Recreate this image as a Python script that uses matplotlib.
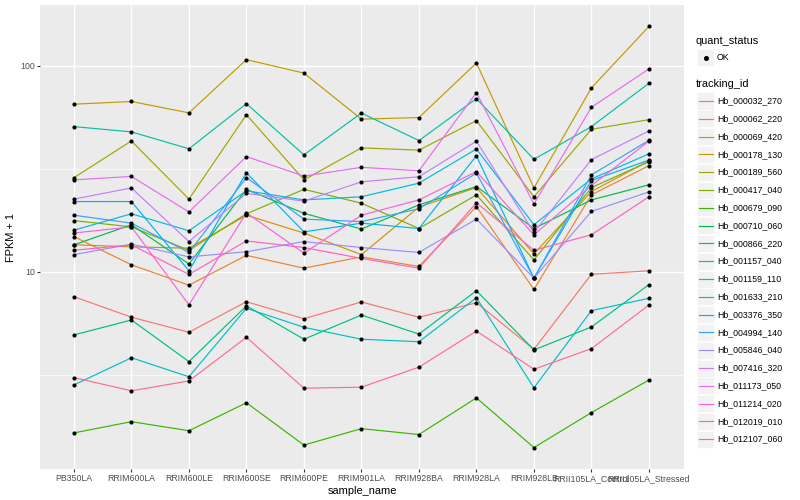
import numpy as np
import matplotlib
matplotlib.use("Agg")
import matplotlib.pyplot as plt
from matplotlib.patches import Rectangle
from matplotlib.lines import Line2D
from matplotlib.ticker import FixedLocator, NullFormatter

plt.rcParams['font.family'] = ['Liberation Sans', 'DejaVu Sans']

samples = ["PB350LA", "RRIM600LA", "RRIM600LE", "RRIM600SE", "RRIM600PE",
           "RRIM901LA", "RRIM928BA", "RRIM928LA", "RRIM928LB",
           "RRII105LA_Control", "RRII105LA_Stressed"]

tracking_ids = ["Hb_000032_270", "Hb_000062_220", "Hb_000069_420", "Hb_000178_130",
                "Hb_000189_560", "Hb_000417_040", "Hb_000679_090", "Hb_000710_060",
                "Hb_000866_220", "Hb_001157_040", "Hb_001159_110", "Hb_001633_210",
                "Hb_003376_350", "Hb_004994_140", "Hb_005846_040", "Hb_007416_320",
                "Hb_011173_050", "Hb_011214_020", "Hb_012019_010", "Hb_012107_060"]

# FPKM + 1 per sample
hb_000032_270 = [7.56, 6.01, 5.08, 7.15, 5.91, 7.13, 6.01, 7.07, 4.20, 9.71, 10.1]
hb_000062_220 = [14.8, 10.8, 8.6, 12.0, 10.4, 11.8, 10.6, 20.7, 8.2, 23.6, 32.7]
hb_000069_420 = [13.5, 13.2, 13.0, 18.8, 15.4, 12.1, 20.6, 25.6, 12.2, 24.5, 34.5]
hb_000178_130 = [65, 67, 59, 107, 92, 55, 56, 103, 25.5, 78, 155]
hb_000189_560 = [28.6, 43.1, 22.5, 57.8, 27.9, 39.9, 38.9, 54.1, 23.1, 49.1, 54.7]
hb_000417_040 = [17.7, 16.5, 12.7, 19.1, 25.1, 21.5, 16.2, 23.6, 11.4, 25.6, 34.2]
hb_000679_090 = [1.65, 1.87, 1.69, 2.31, 1.44, 1.73, 1.62, 2.44, 1.40, 2.07, 2.98]
hb_000710_060 = [13.5, 16.9, 10.9, 25.1, 19.2, 16.1, 21.1, 25.9, 16.2, 22.3, 26.4]
hb_000866_220 = [4.93, 5.83, 3.66, 6.82, 4.70, 6.16, 4.98, 8.09, 4.17, 5.39, 8.65]
hb_001157_040 = [50.6, 47.7, 39.5, 65.4, 36.9, 58.9, 43.3, 69.2, 35.1, 50.6, 82.1]
hb_001159_110 = [2.82, 3.82, 3.09, 6.64, 5.37, 4.70, 4.57, 7.48, 2.73, 6.47, 7.43]
hb_001633_210 = [15.9, 19.1, 15.8, 24.7, 22.3, 23.1, 26.9, 39.4, 16.9, 28.2, 37.3]
hb_003376_350 = [21.9, 21.9, 10.1, 30.2, 15.6, 17.2, 16.2, 36.5, 9.3, 27.7, 34.8]
hb_004994_140 = [18.8, 17.2, 12.4, 28.6, 18.0, 17.5, 20.2, 30.1, 9.3, 29.5, 43.4]
hb_005846_040 = [12.1, 13.6, 11.8, 12.5, 14.0, 13.1, 12.4, 18.0, 9.3, 19.6, 24.4]
hb_007416_320 = [22.5, 25.5, 14.0, 24.0, 22.0, 27.3, 28.9, 43.0, 15.5, 35.0, 48.2]
hb_011173_050 = [27.9, 29.0, 19.5, 36.2, 29.1, 32.1, 30.9, 74.0, 21.3, 62.8, 96.4]
hb_011214_020 = [15.4, 16.5, 6.9, 19.3, 12.3, 18.8, 22.3, 30.6, 15.1, 26.2, 43.0]
hb_012019_010 = [12.7, 13.5, 9.7, 14.1, 13.1, 11.6, 10.4, 21.6, 12.7, 15.1, 23.1]
hb_012107_060 = [3.06, 2.64, 2.95, 4.80, 2.72, 2.75, 3.44, 5.15, 3.36, 4.23, 6.89]

series = [hb_000032_270, hb_000062_220, hb_000069_420, hb_000178_130, hb_000189_560,
          hb_000417_040, hb_000679_090, hb_000710_060, hb_000866_220, hb_001157_040,
          hb_001159_110, hb_001633_210, hb_003376_350, hb_004994_140, hb_005846_040,
          hb_007416_320, hb_011173_050, hb_011214_020, hb_012019_010, hb_012107_060]

# ggplot default hue palette for 20 levels
colors = ["#F8766D", "#EA8331", "#D89000", "#C09B00", "#A3A500", "#7CAE00", "#39B600",
          "#00BB4E", "#00BF7D", "#00C1A3", "#00BFC4", "#00BAE0", "#00B0F6", "#35A2FF",
          "#9590FF", "#C77CFF", "#E76BF3", "#FA62DB", "#FF62BC", "#FF6C91"]

W, H = 800, 500
fig = plt.figure(figsize=(W / 100, H / 100), dpi=100)
ax = fig.add_axes([40 / W, 1 - 469 / H, 644 / W, 464 / H])
ax.set_facecolor("#EBEBEB")
for s in ax.spines.values():
    s.set_visible(False)

x = np.arange(len(samples))
for vals, col in zip(series, colors):
    ax.plot(x, vals, color=col, lw=0.85, zorder=2)
for vals in series:
    ax.scatter(x, vals, s=9, color="black", zorder=3, linewidths=0)

ax.set_yscale("log")
ax.set_ylim(1.102, 197)
ax.set_xlim(-0.59, 10.61)
ax.set_yticks([10, 100])
ax.set_yticklabels(["10", "100"])
ax.yaxis.set_minor_locator(FixedLocator([10 ** 0.5, 10 ** 1.5]))
ax.yaxis.set_minor_formatter(NullFormatter())
ax.set_xticks(x)
ax.set_xticklabels(samples)
ax.grid(which="major", color="white", lw=1.0, zorder=0)
ax.grid(which="minor", axis="y", color="white", lw=0.5, zorder=0)
ax.set_axisbelow(True)
ax.tick_params(which="major", length=2, width=0.8, color="#333333",
               labelsize=6.3, labelcolor="#4D4D4D", pad=1.5)
ax.tick_params(which="minor", length=0)

ax.set_xlabel("sample_name", fontsize=7.9, labelpad=2)
ax.set_ylabel("FPKM + 1", fontsize=7.9, labelpad=3)


def fx(px):
    return px / W


def fy(py):
    return 1 - py / H


# legend: quant_status
fig.text(fx(696), fy(41), "quant_status", fontsize=7.9, va="center", ha="left")
fig.patches.append(Rectangle((fx(697), fy(66)), 17 / W, 17 / H, transform=fig.transFigure,
                             facecolor="#F2F2F2", edgecolor="white", lw=0.5))
fig.lines.append(Line2D([fx(705.5)], [fy(57.5)], transform=fig.transFigure,
                        marker="o", markersize=2.6, color="black", lw=0))
fig.text(fx(717), fy(57.5), "OK", fontsize=6.3, va="center", ha="left")

# legend: tracking_id
fig.text(fx(696), fy(84), "tracking_id", fontsize=7.9, va="center", ha="left")
for i, (tid, col) in enumerate(zip(tracking_ids, colors)):
    cy = 101 + 17.8 * i
    fig.patches.append(Rectangle((fx(697), fy(cy + 8.5)), 17 / W, 17 / H,
                                 transform=fig.transFigure,
                                 facecolor="#F2F2F2", edgecolor="white", lw=0.5))
    fig.lines.append(Line2D([fx(698.5), fx(712.5)], [fy(cy), fy(cy)],
                            transform=fig.transFigure, color=col, lw=0.85))
    fig.text(fx(717), fy(cy), tid, fontsize=6.3, va="center", ha="left")

fig.savefig("out.png", dpi=100)
